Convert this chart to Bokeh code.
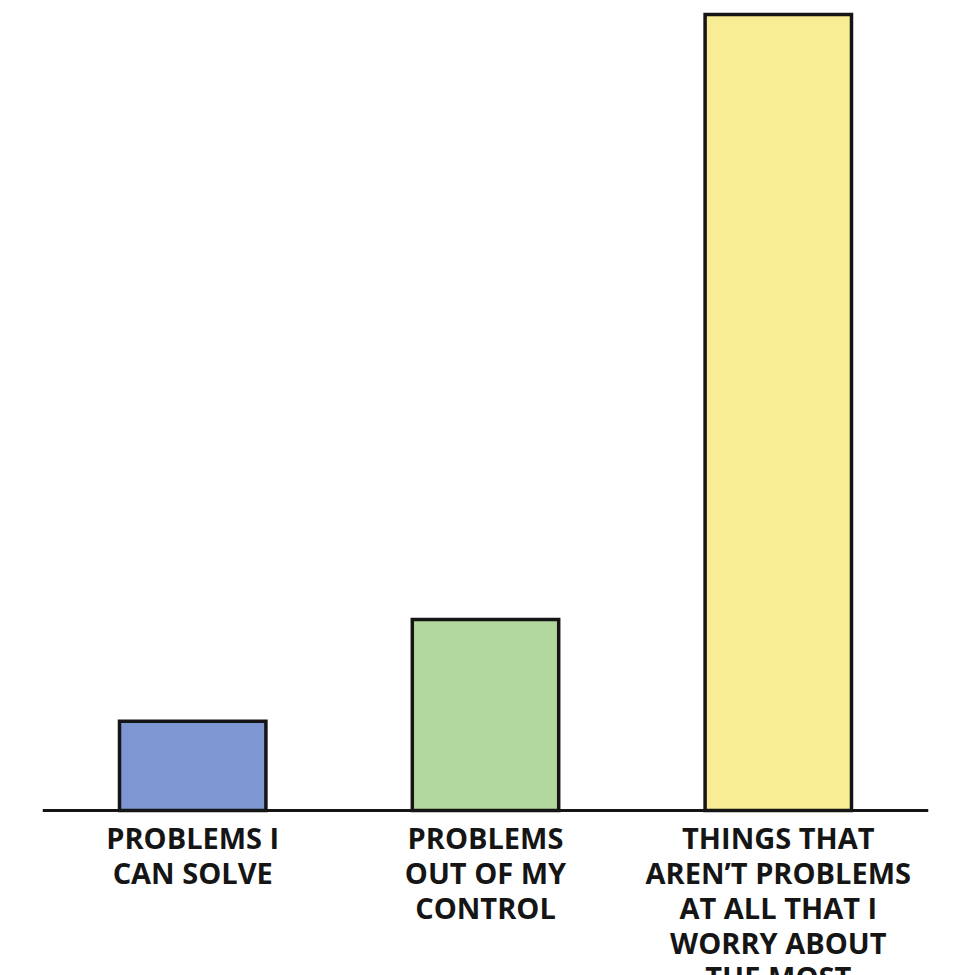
from bokeh.plotting import figure
from bokeh.models import FactorRange, Range1d, Span, ColumnDataSource
from bokeh.core.properties import value
from bokeh.embed import file_html
from bokeh.resources import INLINE

# ---- data -------------------------------------------------------------
categories = [
    "PROBLEMS I\nCAN SOLVE",
    "PROBLEMS\nOUT OF MY\nCONTROL",
    "THINGS THAT\nAREN\u2019T PROBLEMS\nAT ALL THAT I\nWORRY ABOUT\nTHE MOST",
]
values = [11.2, 24.0, 100.0]
colors = ["#7e97d3", "#b2d89e", "#f8ec95"]

source = ColumnDataSource(dict(cat=categories, val=values, color=colors,
                               zero=[0] * len(categories)))

p = figure(
    x_range=FactorRange(*categories, range_padding=0.013,
                        range_padding_units="absolute"),
    y_range=Range1d(-20.73, 101.76),
    width=966, height=975,
    output_backend="svg", toolbar_location=None,
    x_axis_location=None, y_axis_location=None,
    min_border_left=42, min_border_right=38,
    min_border_top=0, min_border_bottom=0,
)
p.outline_line_color = None
p.grid.visible = False
p.background_fill_color = "white"
p.border_fill_color = "white"

p.vbar(x="cat", top="val", bottom=0, width=0.5, source=source,
       fill_color="color", line_color="#151515", line_width=3.5,
       line_join="miter")

p.add_layout(Span(location=0, dimension="width", line_color="#151515",
                  line_width=3))

p.text(x="cat", y="zero", text="cat", source=source,
       text_font=value("Open Sans"), text_font_style="bold",
       text_font_size="29px", text_color="#151515",
       text_align="center", text_baseline="top",
       text_line_height=0.89, y_offset=8)

open("out.html", "w").write(file_html(p, INLINE))
